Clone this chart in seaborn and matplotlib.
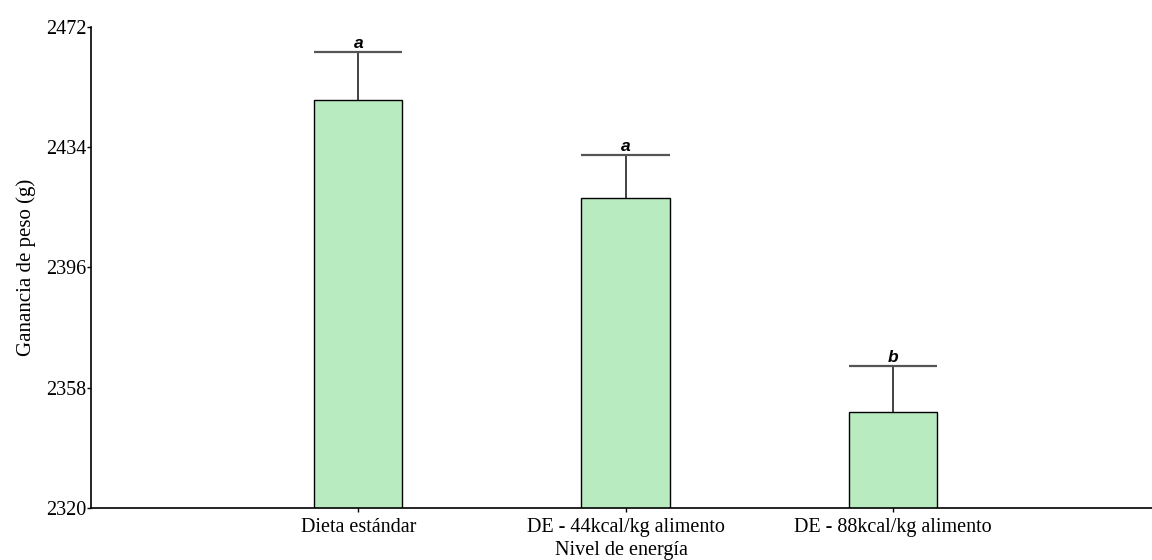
import matplotlib
matplotlib.use("Agg")
import matplotlib.pyplot as plt
import seaborn as sns
import pandas as pd
import numpy as np

# Weight gain by dietary energy level
niveles = ["Dieta estándar", "DE - 44kcal/kg alimento", "DE - 88kcal/kg alimento"]
ganancia = [2448.9, 2418.0, 2350.3]
error_sup = [15.2, 13.5, 14.6]
letras = ["a", "a", "b"]
yticks = [2320, 2358, 2396, 2434, 2472]

df = pd.DataFrame({"nivel": niveles, "ganancia": ganancia})

sns.set_theme(style="white")
plt.rcParams["font.family"] = ["Liberation Serif", "DejaVu Serif"]
plt.rcParams["text.color"] = "black"
plt.rcParams["axes.labelcolor"] = "black"
plt.rcParams["xtick.color"] = "black"
plt.rcParams["ytick.color"] = "black"

fig = plt.figure(figsize=(11.52, 5.6), dpi=100)
ax = fig.add_axes([0.079, 0.093, 0.921, 0.859])

bar_w = 0.33
sns.barplot(data=df, x="nivel", y="ganancia", color="#b8ebc0", width=bar_w,
            edgecolor="black", linewidth=1.0, saturation=1, errorbar=None, ax=ax)

x = np.arange(len(niveles))
# upper-only error bars
ax.errorbar(x, ganancia, yerr=[np.zeros(len(ganancia)), error_sup], fmt="none",
            ecolor="#222222", elinewidth=1.2, capsize=0, zorder=3)
for xi, g, e, l in zip(x, ganancia, error_sup, letras):
    ax.hlines(g + e, xi - bar_w / 2, xi + bar_w / 2, color="#555555", linewidth=1.6, zorder=3)
    ax.text(xi, g + e + 0.4, l, ha="center", va="bottom", fontsize=12.5,
            fontweight="bold", fontstyle="italic", family=["Liberation Sans", "DejaVu Sans"])

ax.set_ylim(2320, 2472)
ax.set_xlim(-1.0, 2.97)
ax.set_yticks(yticks)
ax.set_yticklabels([str(t) for t in yticks])

for side in ["top", "right"]:
    ax.spines[side].set_visible(False)
for side in ["left", "bottom"]:
    ax.spines[side].set_color("black")
    ax.spines[side].set_linewidth(1.2)

ax.tick_params(axis="both", which="major", direction="out", length=3, width=1,
               color="black", labelsize=14.5, bottom=True, left=True)
ax.tick_params(axis="y", pad=0.5)
ax.tick_params(axis="x", pad=4)
ax.set_xlabel("Nivel de energía", fontsize=14.5, labelpad=3)
ax.set_ylabel("Ganancia de peso (g)", fontsize=15, labelpad=7)

fig.savefig("out.png", dpi=100)
